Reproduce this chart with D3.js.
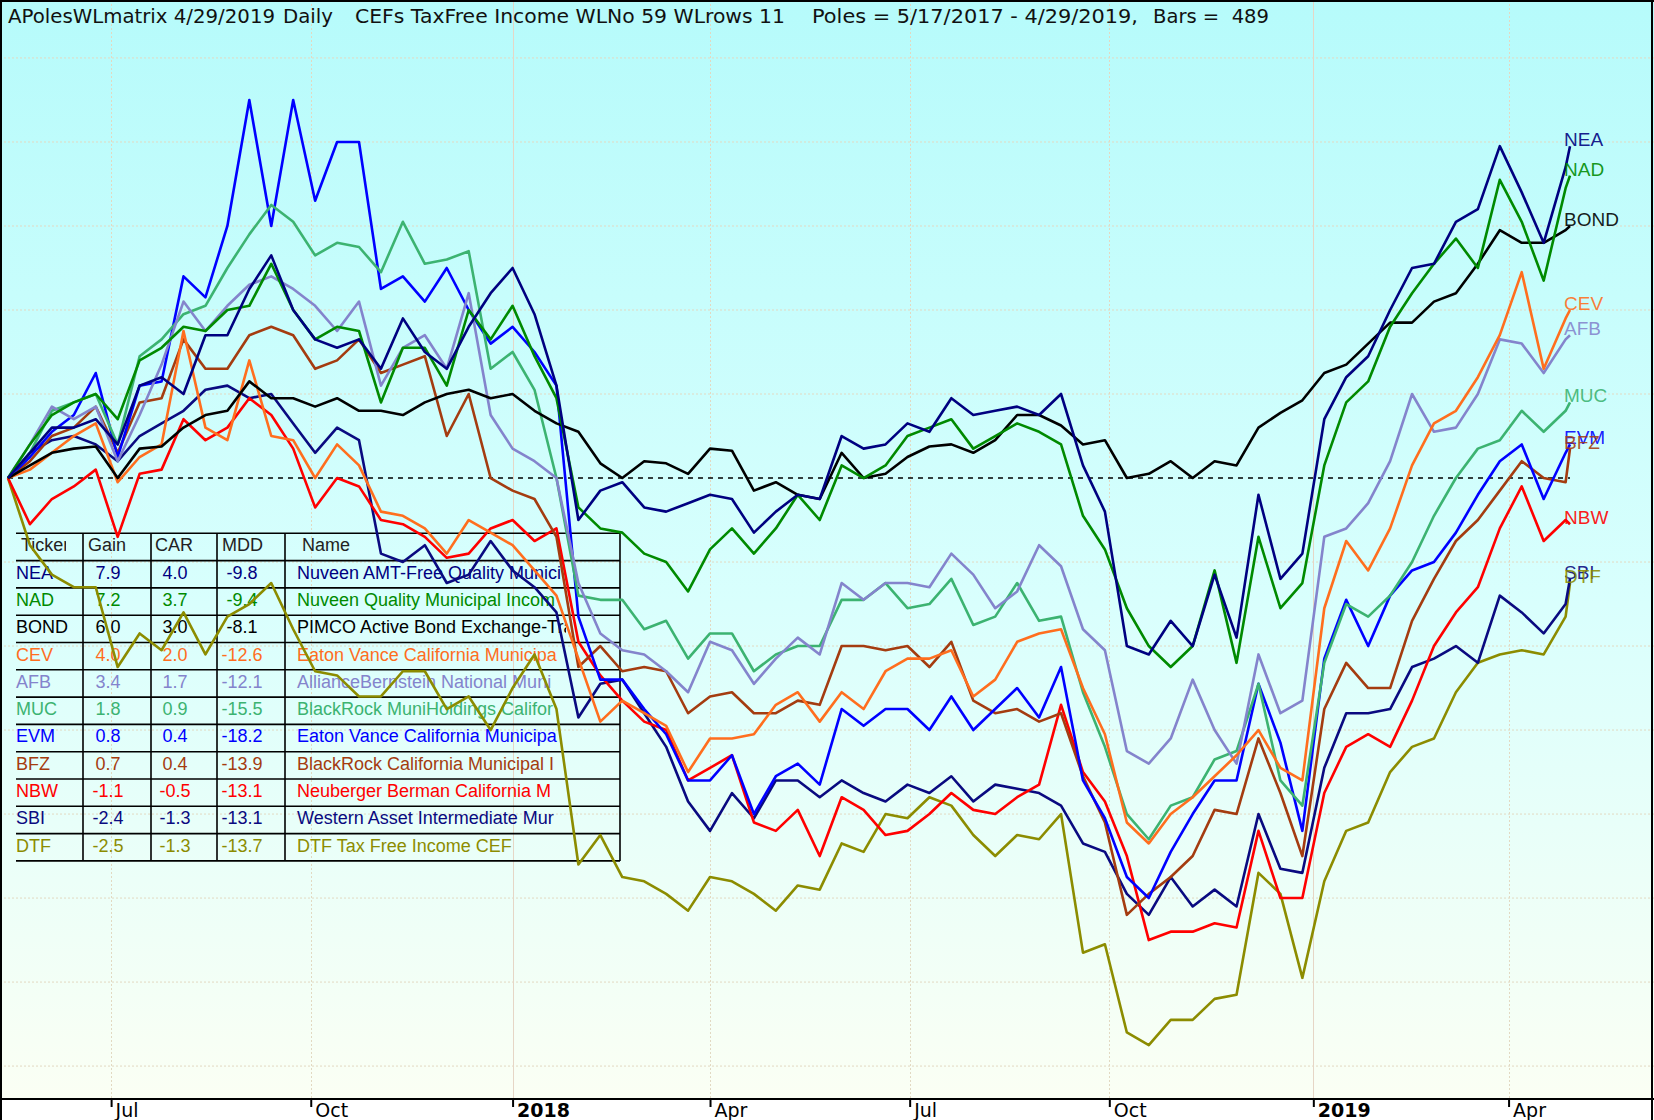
<!DOCTYPE html>
<html><head><meta charset="utf-8">
<script src="https://cdn.jsdelivr.net/npm/d3@7"></script>
<style>html,body{margin:0;padding:0;background:#fff;} svg{display:block;}</style>
</head><body>
<svg id="chart" width="1654" height="1120"></svg>
<script>
// ---------- DATA ----------
const dates = ["2017-05-17","2017-05-27","2017-06-06","2017-06-16","2017-06-26","2017-07-06","2017-07-16","2017-07-26","2017-08-05","2017-08-15","2017-08-25","2017-09-04","2017-09-14","2017-09-24","2017-10-04","2017-10-14","2017-10-24","2017-11-03","2017-11-13","2017-11-23","2017-12-03","2017-12-13","2017-12-23","2018-01-02","2018-01-12","2018-01-22","2018-02-01","2018-02-11","2018-02-21","2018-03-03","2018-03-13","2018-03-23","2018-04-02","2018-04-12","2018-04-22","2018-05-02","2018-05-12","2018-05-22","2018-06-01","2018-06-11","2018-06-21","2018-07-01","2018-07-11","2018-07-21","2018-07-31","2018-08-10","2018-08-20","2018-08-30","2018-09-09","2018-09-19","2018-09-29","2018-10-09","2018-10-19","2018-10-29","2018-11-08","2018-11-18","2018-11-28","2018-12-08","2018-12-18","2018-12-28","2019-01-07","2019-01-17","2019-01-27","2019-02-06","2019-02-16","2019-02-26","2019-03-08","2019-03-18","2019-03-28","2019-04-07","2019-04-17","2019-04-27","2019-04-29"];

const NEA  = [0,0.6,1.2,1.2,1.4,0.8,2.2,2.4,2.0,3.4,3.4,4.5,5.3,4.0,3.3,3.1,3.3,2.6,3.8,3.0,2.6,3.6,4.4,5.0,3.9,2.2,-1.0,-0.3,-0.1,-0.7,-0.8,-0.6,-0.4,-0.5,-1.3,-0.8,-0.4,-0.5,1.0,0.7,0.8,1.3,1.1,1.9,1.5,1.6,1.7,1.5,2.0,0.3,-0.8,-4.0,-4.2,-3.4,-4.0,-2.3,-3.8,-0.4,-2.4,-1.8,1.4,2.4,2.9,4.0,5.0,5.1,6.1,6.4,7.9,6.8,5.6,7.4,7.9];
const NAD  = [0,0.8,1.5,1.8,2.0,1.4,2.8,3.1,3.6,3.5,4.0,4.1,5.1,4.0,3.3,3.6,3.5,1.8,3.1,3.1,2.2,4.0,3.3,4.1,2.9,1.9,-0.7,-1.2,-1.3,-1.8,-2.0,-2.7,-1.7,-1.2,-1.8,-1.2,-0.4,-1.0,0.3,0.0,0.3,1.0,1.2,1.4,0.7,1.0,1.3,1.1,0.8,-0.9,-1.7,-3.1,-4.0,-4.5,-4.0,-2.2,-4.4,-1.4,-3.1,-2.5,0.3,1.8,2.3,3.6,4.4,5.1,5.7,5.0,7.1,6.1,4.7,6.9,7.2];
const BOND = [0,0.3,0.6,0.7,0.75,0.0,0.7,0.75,1.2,1.5,1.6,2.3,1.9,1.9,1.7,1.9,1.6,1.6,1.5,1.8,2.0,2.1,1.9,2.0,1.6,1.3,1.1,0.35,0.0,0.4,0.35,0.1,0.7,0.65,-0.3,-0.1,-0.4,-0.5,0.6,0.0,0.1,0.5,0.75,0.8,0.6,0.9,1.5,1.5,1.25,0.8,0.9,0.0,0.1,0.4,0.0,0.4,0.3,1.2,1.55,1.85,2.5,2.7,3.2,3.7,3.7,4.2,4.4,5.1,5.9,5.6,5.6,5.9,6.0];
const CEV  = [0,0.2,0.6,1.0,1.3,-0.1,0.5,0.8,3.5,1.2,0.9,2.8,1.0,0.9,0.0,0.8,0.3,-0.8,-0.9,-1.2,-1.8,-1.0,-1.3,-1.6,-2.2,-2.8,-4.3,-5.8,-5.3,-5.6,-5.9,-7.0,-6.2,-6.2,-6.1,-5.4,-5.1,-5.8,-5.1,-5.5,-4.6,-4.3,-4.3,-4.1,-5.2,-4.8,-3.9,-3.7,-3.6,-5.0,-6.1,-8.2,-8.7,-8.0,-7.6,-7.1,-6.6,-6.0,-6.9,-7.2,-3.1,-1.5,-2.2,-1.2,0.3,1.3,1.6,2.4,3.4,4.9,2.6,3.8,4.0];
const AFB  = [0,0.8,1.7,1.4,1.7,0.4,1.5,2.7,4.2,3.5,4.1,4.6,4.8,4.5,4.1,3.5,4.2,2.2,3.1,3.4,2.6,4.4,1.5,0.7,0.4,0.0,-2.5,-3.7,-4.1,-4.2,-4.6,-5.1,-3.9,-4.1,-4.9,-4.3,-3.8,-4.2,-2.5,-2.9,-2.5,-2.5,-2.6,-1.8,-2.3,-3.1,-2.7,-1.6,-2.1,-3.6,-4.1,-6.5,-6.8,-6.2,-4.8,-6.0,-6.8,-4.2,-5.6,-5.3,-1.4,-1.2,-0.6,0.4,2.0,1.1,1.2,2.0,3.3,3.2,2.5,3.3,3.4];
const MUC  = [0,0.6,1.6,1.8,2.0,0.8,2.9,3.3,3.9,4.1,5.0,5.8,6.5,6.1,5.3,5.6,5.5,4.9,6.1,5.1,5.2,5.4,2.6,3.0,2.1,0.0,-2.8,-2.9,-2.9,-3.6,-3.4,-4.3,-3.7,-3.7,-4.6,-4.2,-4.0,-4.0,-2.9,-2.9,-2.5,-3.1,-3.0,-2.4,-3.5,-3.3,-2.5,-3.4,-3.3,-5.1,-6.4,-8.0,-8.6,-7.8,-7.6,-6.7,-6.5,-4.9,-7.2,-7.8,-4.4,-3.0,-3.3,-2.8,-2.0,-0.9,0.0,0.7,0.9,1.6,1.1,1.6,1.8];
const EVM  = [0,0.5,1.1,1.5,2.5,0.5,2.2,2.3,4.8,4.3,6.0,9.0,6.0,9.0,6.6,8.0,8.0,4.5,4.8,4.2,5.0,4.0,3.2,3.6,3.0,2.2,-3.3,-4.8,-4.8,-5.5,-6.1,-7.2,-7.2,-6.6,-8.0,-7.1,-6.8,-7.3,-5.5,-5.9,-5.5,-5.5,-6.0,-5.2,-6.0,-5.5,-5.0,-5.7,-4.5,-7.2,-8.1,-9.5,-10.0,-8.9,-8.0,-7.2,-7.2,-4.9,-6.3,-8.4,-4.3,-2.9,-4.0,-2.8,-2.2,-2.0,-1.3,-0.4,0.4,0.8,-0.5,0.6,0.8];
const BFZ  = [0,0.4,1.0,1.2,1.7,0.6,1.8,1.9,3.3,2.6,2.6,3.4,3.6,3.4,2.6,2.8,3.3,2.5,2.7,2.9,1.0,2.0,0.0,-0.3,-0.5,-1.4,-4.5,-4.0,-4.6,-4.5,-4.6,-5.6,-5.2,-5.1,-5.6,-5.6,-5.3,-5.4,-4.0,-4.0,-4.1,-4.0,-4.5,-3.9,-5.3,-5.6,-5.5,-5.8,-5.6,-7.1,-8.2,-10.4,-9.9,-9.5,-9.0,-7.9,-8.0,-6.2,-7.5,-9.0,-5.5,-4.4,-5.0,-5.0,-3.4,-2.4,-1.5,-1.0,-0.3,0.4,0.0,-0.1,0.7];
const NBW  = [0,-1.1,-0.5,-0.2,0.2,-1.4,0.1,0.2,1.4,0.9,1.2,1.9,1.5,0.7,-0.7,0.0,-0.2,-1.0,-1.1,-1.4,-1.9,-1.8,-1.2,-1.0,-1.5,-1.2,-3.9,-4.7,-5.3,-5.8,-6.0,-7.2,-6.9,-6.6,-8.2,-8.4,-7.9,-9.0,-7.6,-7.9,-8.5,-8.4,-8.0,-7.5,-7.9,-8.0,-7.6,-7.3,-5.4,-7.0,-7.7,-9.0,-11.0,-10.8,-10.8,-10.6,-10.7,-8.4,-10.0,-10.0,-7.5,-6.4,-6.1,-6.4,-5.3,-4.0,-3.2,-2.6,-1.2,-0.2,-1.5,-1.0,-1.1];
const SBI  = [0,0.6,0.9,1.0,0.8,0.4,1.0,1.3,1.6,2.1,2.2,1.9,2.0,1.3,0.6,1.2,0.9,-1.8,-2.0,-1.6,-2.5,-2.3,-1.5,-2.2,-2.6,-3.2,-5.7,-4.9,-4.8,-5.6,-6.4,-7.7,-8.4,-7.5,-8.1,-7.2,-7.2,-7.6,-7.2,-7.5,-7.7,-7.3,-7.5,-7.1,-7.7,-7.3,-7.4,-7.5,-7.8,-8.7,-8.9,-9.9,-10.4,-9.5,-10.2,-9.8,-10.2,-8.0,-9.3,-9.4,-6.9,-5.6,-5.6,-5.5,-4.5,-4.3,-4.0,-4.4,-2.8,-3.2,-3.7,-3.0,-2.4];
const DTF  = [0,-1.6,-2.3,-2.6,-2.6,-4.5,-3.7,-4.1,-3.2,-4.2,-3.3,-3.0,-2.5,-3.6,-4.6,-4.7,-5.2,-5.2,-4.6,-4.6,-5.5,-5.2,-6.0,-5.0,-4.2,-5.5,-9.2,-8.5,-9.5,-9.6,-9.9,-10.3,-9.5,-9.6,-9.9,-10.3,-9.7,-9.8,-8.7,-8.9,-8.0,-8.1,-7.6,-7.8,-8.5,-9.0,-8.5,-8.6,-8.0,-11.3,-11.1,-13.2,-13.5,-12.9,-12.9,-12.4,-12.3,-9.4,-9.9,-11.9,-9.6,-8.4,-8.2,-7.0,-6.4,-6.2,-5.1,-4.4,-4.2,-4.1,-4.2,-3.3,-2.5];

const tickers = ["NEA","NAD","BOND","CEV","AFB","MUC","EVM","BFZ","NBW","SBI","DTF"];
const gains   = ["7.9","7.2","6.0","4.0","3.4","1.8","0.8","0.7","-1.1","-2.4","-2.5"];
const cars    = ["4.0","3.7","3.0","2.0","1.7","0.9","0.4","0.4","-0.5","-1.3","-1.3"];
const mdds    = ["-9.8","-9.4","-8.1","-12.6","-12.1","-15.5","-18.2","-13.9","-13.1","-13.1","-13.7"];
const fundNames = ["Nuveen AMT-Free Quality Munici","Nuveen Quality Municipal Incom","PIMCO Active Bond Exchange-Tra","Eaton Vance California Municipa","AllianceBernstein National Muni","BlackRock MuniHoldings Califor","Eaton Vance California Municipa","BlackRock California Municipal I","Neuberger Berman California M","Western Asset Intermediate Mur","DTF Tax Free Income CEF"];
const colors  = ["#000080","#008a00","#000000","#ff6e1e","#8484cc","#3cb371","#0000ff","#a43c10","#ff0000","#0a0a80","#8c8c00"];
const headers = ["Ticker","Gain","CAR","MDD","Name"];

const tickDates  = ["2017-07-03","2017-10-02","2018-01-02","2018-04-02","2018-07-02","2018-10-01","2019-01-02","2019-04-01"];
const tickLabels = ["Jul","Oct","2018","Apr","Jul","Oct","2019","Apr"];
const gridValues = [-14,-12,-10,-8,-6,-4,-2,2,4,6,8,10];
const titleParts = ["APolesWLmatrix 4/29/2019","Daily","CEFs TaxFree Income WLNo 59 WLrows 11","Poles = 5/17/2017 - 4/29/2019,","Bars =  489"];

// ---------- CHART ----------
const seriesValues = [NEA,NAD,BOND,CEV,AFB,MUC,EVM,BFZ,NBW,SBI,DTF];
const W = 1654, H = 1120, axisY = 1099;
const parse = d3.timeParse("%Y-%m-%d");
const dateObjs = dates.map(parse);
const svg = d3.select("#chart");

const x = d3.scaleTime().domain([parse("2017-05-17"), parse("2019-04-29")]).range([8, 1570]);
const y = d3.scaleLinear().domain([-14.76, 11.38]).range([1098, 0]);

const defs = svg.append("defs");
const grad = defs.append("linearGradient").attr("id","bg").attr("x1",0).attr("y1",0).attr("x2",0).attr("y2",1);
grad.append("stop").attr("offset","0%").attr("stop-color","#b6fbfb");
grad.append("stop").attr("offset","55%").attr("stop-color","#d9fffd");
grad.append("stop").attr("offset","100%").attr("stop-color","#fbfff4");
defs.append("clipPath").attr("id","nameclip").append("rect").attr("x",286).attr("y",520).attr("width",280).attr("height",360);
defs.append("clipPath").attr("id","tickclip").append("rect").attr("x",16).attr("y",530).attr("width",50).attr("height",30);

svg.append("rect").attr("x",0).attr("y",0).attr("width",W).attr("height",H).attr("fill","#ffffff");
svg.append("rect").attr("x",0).attr("y",0).attr("width",W).attr("height",axisY).attr("fill","url(#bg)");

// grid
svg.append("g").selectAll("line").data(gridValues).join("line")
  .attr("x1",0).attr("x2",W).attr("y1",d=>y(d)).attr("y2",d=>y(d))
  .attr("stroke","#e2d9c2").attr("stroke-width",1).attr("stroke-dasharray","2,2");
svg.append("g").selectAll("line").data(tickDates).join("line")
  .attr("x1",d=>Math.round(x(parse(d)))+0.5).attr("x2",d=>Math.round(x(parse(d)))+0.5)
  .attr("y1",0).attr("y2",axisY)
  .attr("stroke",(d,i)=>/^\d{4}$/.test(tickLabels[i]) ? "#e6d6c6" : "#e2d9c2")
  .attr("stroke-width",1)
  .attr("stroke-dasharray",(d,i)=>/^\d{4}$/.test(tickLabels[i]) ? null : "2,2");

// title
const title = svg.append("text").attr("y",23).attr("font-family","DejaVu Sans, Verdana, sans-serif")
  .attr("font-size",19).attr("fill","#111").style("white-space","pre");
const tX = [8,283,355,812,1153], tL = [267,50,430,326,116];
titleParts.forEach((t,i)=>{
  title.append("tspan").attr("x",tX[i]).attr("textLength",tL[i]).attr("lengthAdjust","spacingAndGlyphs").text(t);
});

// table
const tbl = svg.append("g");
const rowTop = 533.3, rowH = 27.3, nRows = tickers.length + 1;
const colX = [83,151,217,285,620];
for (let k=0;k<=nRows;k++){
  tbl.append("line").attr("x1",16).attr("x2",620).attr("y1",rowTop+k*rowH).attr("y2",rowTop+k*rowH)
    .attr("stroke","#000").attr("stroke-width",1.6);
}
colX.forEach(cx=>tbl.append("line").attr("x1",cx).attr("x2",cx).attr("y1",rowTop).attr("y2",rowTop+nRows*rowH)
  .attr("stroke","#000").attr("stroke-width",1.6));
const tf = "Liberation Sans, Arial, sans-serif";
const hx = [21,88,155,222,302];
headers.forEach((h,i)=>{
  const t = tbl.append("text").attr("x",hx[i]).attr("y",rowTop+18).attr("font-family",tf).attr("font-size",18).attr("fill","#222").text(h);
  if(i===0) t.attr("clip-path","url(#tickclip)");
});
tickers.forEach((tk,r)=>{
  const by = rowTop+(r+1)*rowH+18, c = colors[r];
  tbl.append("text").attr("x",16).attr("y",by).attr("font-family",tf).attr("font-size",18).attr("fill",c).text(tk);
  tbl.append("text").attr("x",108).attr("y",by).attr("text-anchor","middle").attr("font-family",tf).attr("font-size",18).attr("fill",c).text(gains[r]);
  tbl.append("text").attr("x",175).attr("y",by).attr("text-anchor","middle").attr("font-family",tf).attr("font-size",18).attr("fill",c).text(cars[r]);
  tbl.append("text").attr("x",242).attr("y",by).attr("text-anchor","middle").attr("font-family",tf).attr("font-size",18).attr("fill",c).text(mdds[r]);
  tbl.append("text").attr("x",297).attr("y",by).attr("font-family",tf).attr("font-size",18).attr("fill",c)
    .attr("clip-path","url(#nameclip)").text(fundNames[r]);
});

// zero baseline
svg.append("line").attr("x1",x.range()[0]).attr("x2",x.range()[1]).attr("y1",y(0)).attr("y2",y(0))
  .attr("stroke","#000").attr("stroke-width",1.4).attr("stroke-dasharray","5,5");

// series
const line = d3.line().x((d,i)=>x(dateObjs[i])).y(d=>y(d));
const order = [10,9,8,7,6,5,4,3,2,1,0];
svg.append("g").selectAll("path").data(order).join("path")
  .attr("d",i=>line(seriesValues[i]))
  .attr("fill","none").attr("stroke",i=>colors[i]).attr("stroke-width",2.6)
  .attr("stroke-linejoin","round");

// end labels
svg.append("g").selectAll("text").data(tickers).join("text")
  .attr("x",1564).attr("y",(d,i)=>y(seriesValues[i][seriesValues[i].length-1]))
  .attr("font-family",tf).attr("font-size",19).attr("fill",(d,i)=>colors[i]).attr("fill-opacity",0.9)
  .text(d=>d);

// axis
svg.append("line").attr("x1",0).attr("x2",W).attr("y1",axisY).attr("y2",axisY).attr("stroke","#000").attr("stroke-width",2);
const xAxis = d3.axisBottom(x).tickValues(tickDates.map(parse)).tickFormat((d,i)=>tickLabels[i]).tickSize(8);
const gA = svg.append("g").attr("transform",`translate(0,${axisY})`).call(xAxis);
gA.select(".domain").remove();
gA.selectAll(".tick line").attr("stroke","#000").attr("stroke-width",2);
gA.selectAll(".tick text").attr("text-anchor","start").attr("x",4).attr("y",18).attr("dy",null)
  .attr("font-family","DejaVu Sans, Verdana, sans-serif").attr("font-size",19).attr("fill","#000")
  .attr("font-weight",(d,i)=>/^\d{4}$/.test(tickLabels[i]) ? "bold" : "normal");

// frame
svg.append("line").attr("x1",1).attr("x2",1).attr("y1",0).attr("y2",H).attr("stroke","#000").attr("stroke-width",2);
svg.append("line").attr("x1",W-2).attr("x2",W-2).attr("y1",0).attr("y2",H).attr("stroke","#000").attr("stroke-width",2);
svg.append("line").attr("x1",0).attr("x2",W).attr("y1",1).attr("y2",1).attr("stroke","#000").attr("stroke-width",2);
</script>
</body></html>
